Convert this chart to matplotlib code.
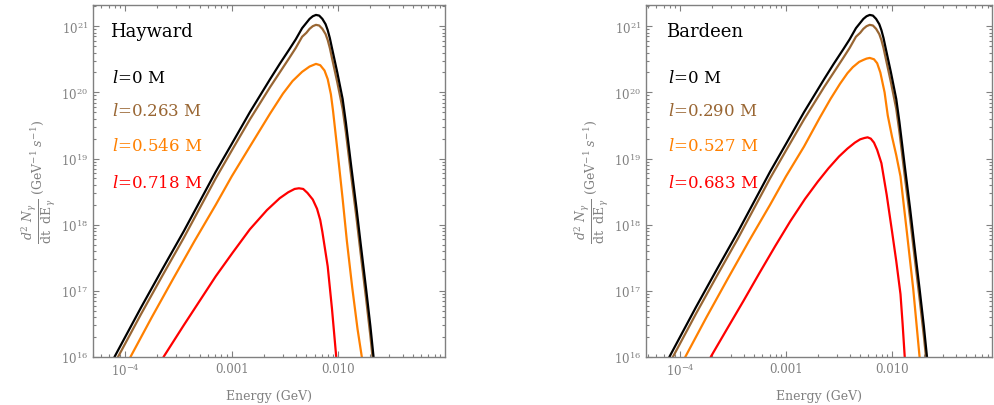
import numpy as np
import matplotlib
matplotlib.use('Agg')
import matplotlib.pyplot as plt
from matplotlib.ticker import LogLocator, FixedLocator, FixedFormatter, NullFormatter

plt.rcParams['font.family'] = 'DejaVu Serif'
plt.rcParams['mathtext.fontset'] = 'dejavuserif'

# log10 of energy (GeV) and log10 of d2N/dtdE
black_logE = [-4.10, -3.85, -3.65, -3.45, -3.30, -3.15, -3.00, -2.83, -2.64, -2.55, -2.46,
              -2.40, -2.34, -2.30, -2.27, -2.24, -2.21, -2.18, -2.15, -2.12, -2.10, -2.08,
              -2.06, -2.01, -1.96, -1.93, -1.88, -1.83, -1.79, -1.74, -1.70, -1.67]
black_logN = [16.0, 16.75, 17.33, 17.90, 18.35, 18.80, 19.22, 19.70, 20.20, 20.43, 20.65,
              20.80, 20.97, 21.05, 21.11, 21.15, 21.17, 21.16, 21.11, 21.03, 20.94, 20.82,
              20.67, 20.30, 19.90, 19.55, 18.89, 18.25, 17.70, 17.03, 16.47, 16.0]

brown_logE = black_logE
brown_logN = [15.90, 16.65, 17.23, 17.80, 18.25, 18.70, 19.12, 19.59, 20.08, 20.30, 20.52,
              20.67, 20.84, 20.90, 20.96, 21.00, 21.02, 21.01, 20.96, 20.88, 20.79, 20.67,
              20.52, 20.15, 19.75, 19.40, 18.74, 18.10, 17.55, 16.88, 16.32, 15.85]

# Hayward
hay_orange_logE = [-3.95, -3.75, -3.55, -3.35, -3.15, -3.00, -2.83, -2.64, -2.52, -2.43, -2.34,
                   -2.27, -2.21, -2.17, -2.13, -2.10, -2.07, -2.05, -2.01, -1.96, -1.92, -1.87,
                   -1.82, -1.78]
hay_orange_logN = [16.0, 16.6, 17.18, 17.75, 18.3, 18.73, 19.18, 19.68, 19.98, 20.17, 20.31,
                   20.39, 20.43, 20.41, 20.33, 20.2, 19.97, 19.72, 19.14, 18.39, 17.75, 17.05,
                   16.42, 16.0]
hay_red_logE = [-3.64, -3.45, -3.30, -3.15, -2.99, -2.83, -2.67, -2.55, -2.47, -2.41, -2.37,
                -2.33, -2.29, -2.24, -2.20, -2.17, -2.15, -2.10, -2.06, -2.02]
hay_red_logN = [16.0, 16.48, 16.85, 17.22, 17.58, 17.93, 18.22, 18.40, 18.49, 18.54, 18.55,
                18.54, 18.48, 18.38, 18.24, 18.07, 17.89, 17.37, 16.73, 16.0]

# Bardeen
bar_orange_logE = [-3.95, -3.75, -3.55, -3.35, -3.15, -3.00, -2.83, -2.68, -2.58, -2.49, -2.42,
                   -2.37, -2.31, -2.27, -2.24, -2.21, -2.17, -2.14, -2.11, -2.07, -2.04, -2.00,
                   -1.96, -1.92, -1.86, -1.80, -1.74]
bar_orange_logN = [16.0, 16.6, 17.18, 17.75, 18.3, 18.73, 19.18, 19.62, 19.90, 20.13, 20.29,
                   20.38, 20.46, 20.49, 20.51, 20.52, 20.50, 20.44, 20.30, 20.0, 19.65, 19.33,
                   19.05, 18.73, 17.89, 17.03, 16.0]
bar_red_logE = [-3.71, -3.55, -3.40, -3.25, -3.10, -2.96, -2.82, -2.70, -2.60, -2.50, -2.42,
                -2.35, -2.30, -2.26, -2.23, -2.20, -2.17, -2.14, -2.10, -2.05, -2.00, -1.96,
                -1.92, -1.90, -1.88]
bar_red_logN = [16.0, 16.44, 16.85, 17.27, 17.68, 18.05, 18.39, 18.65, 18.85, 19.03, 19.15,
                19.24, 19.29, 19.31, 19.32, 19.30, 19.24, 19.13, 18.93, 18.45, 17.9, 17.45,
                16.95, 16.5, 16.0]

hay_labels = ['0', '0.263', '0.546', '0.718']
bar_labels = ['0', '0.290', '0.527', '0.683']
colors = ['#000000', '#996633', '#ff8000', '#ff0000']
gray = '#808080'

panels = [
    ('Hayward', hay_labels,
     [(black_logE, black_logN), (brown_logE, brown_logN),
      (hay_orange_logE, hay_orange_logN), (hay_red_logE, hay_red_logN)]),
    ('Bardeen', bar_labels,
     [(black_logE, black_logN), (brown_logE, brown_logN),
      (bar_orange_logE, bar_orange_logN), (bar_red_logE, bar_red_logN)]),
]

W, H = 994, 406
fig = plt.figure(figsize=(W / 100, H / 100), dpi=100)
boxes = [(93, 6, 352, 352, (5e-5, 0.1)), (646, 6, 346, 352, (10**-4.32, 10**-1.057))]

for (name, labs, curves), (x0, y0, w, h, xl) in zip(panels, boxes):
    ax = fig.add_axes([x0 / W, (H - y0 - h) / H, w / W, h / H])
    # red first so black ends on top
    for (le, ln), c in reversed(list(zip(curves, colors))):
        ax.plot(10**np.array(le), 10**np.array(ln), color=c, lw=1.6,
                solid_joinstyle='round', solid_capstyle='round')
    ax.set_xscale('log')
    ax.set_yscale('log')
    ax.set_xlim(*xl)
    ax.set_ylim(1e16, 10**21.32)

    ax.xaxis.set_major_locator(FixedLocator([1e-4, 1e-3, 1e-2]))
    ax.xaxis.set_major_formatter(FixedFormatter([r'$10^{-4}$', '0.001', '0.010']))
    ax.xaxis.set_minor_locator(LogLocator(base=10, subs=np.arange(2, 10), numticks=20))
    ax.xaxis.set_minor_formatter(NullFormatter())
    ax.yaxis.set_major_locator(LogLocator(base=10, numticks=20))
    ax.yaxis.set_minor_locator(LogLocator(base=10, subs=np.arange(2, 10), numticks=20))
    ax.yaxis.set_minor_formatter(NullFormatter())

    ax.tick_params(which='both', direction='in', top=True, right=True, colors=gray,
                   labelcolor=gray, labelsize=8.5, width=0.8)
    ax.tick_params(which='major', length=4.5)
    ax.tick_params(which='minor', length=2.5)
    for s in ax.spines.values():
        s.set_color(gray)
        s.set_linewidth(1.0)

    ax.set_xlabel('Energy (GeV)', color=gray, fontsize=9, labelpad=8)
    ax.set_ylabel(r'$\dfrac{d^2\ N_\gamma}{\mathrm{dt\ \ dE}_\gamma}$ (GeV$^{-1}$ $s^{-1}$)',
                  color=gray, fontsize=9, labelpad=2)

    tx = 0.048 if name == 'Hayward' else 0.058
    ax.text(tx, 0.926, name, transform=ax.transAxes, fontsize=13, color='black',
            va='center', ha='left')
    for i, (lab, c) in enumerate(zip(labs, colors)):
        ax.text(tx + 0.006, [0.795, 0.70, 0.60, 0.497][i], r'$l$=' + lab + ' M',
                transform=ax.transAxes, fontsize=12, color=c, va='center', ha='left')

fig.savefig('out.png', dpi=100)
